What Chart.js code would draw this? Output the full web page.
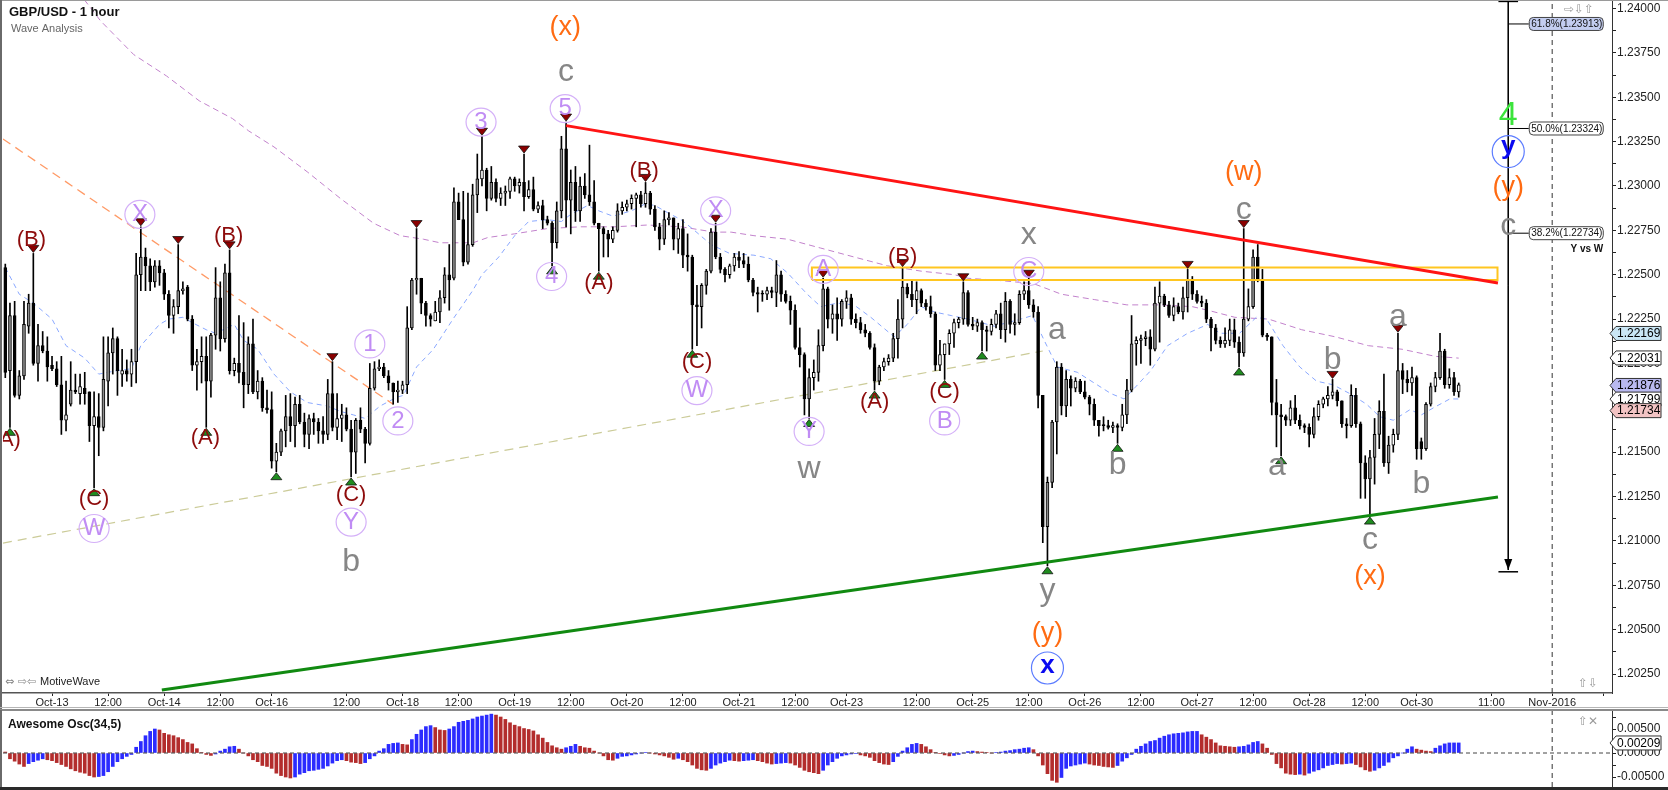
<!DOCTYPE html>
<html><head><meta charset="utf-8">
<script src="https://cdn.jsdelivr.net/npm/chart.js@4.4.1/dist/chart.umd.min.js"></script>
<style>
html,body{margin:0;padding:0;background:#fff;width:1668px;height:790px;overflow:hidden;}
#wrap{position:relative;width:1668px;height:790px;}
#c1{position:absolute;left:0;top:0;}
#c2{position:absolute;left:0;top:710px;}
</style></head><body><div id="wrap">
<canvas id="c1" width="1668" height="710"></canvas>
<canvas id="c2" width="1668" height="80"></canvas>
</div>
<script>
// ---------- DATA (prices in pips above 1.20000) ----------
const BASE = 1.2, PIP = 0.0001;
const opens = [254,196,227,182,193,221,234,200,210,207,199,197,188,168,177,185,183,186,184,165,170,164,190,206,214,194,196,194,201,250,260,255,246,255,251,239,227,232,241,243,225,199,201,204,190,216,237,214,251,196,200,195,188,211,184,190,175,174,145,150,162,170,165,177,167,160,169,167,162,160,183,164,169,171,163,150,168,163,155,186,197,198,193,189,184,185,188,220,247,248,234,227,224,229,237,250,248,291,281,257,267,295,304,309,293,302,293,296,297,304,300,302,294,298,287,289,281,279,268,286,321,292,302,286,300,295,291,279,276,273,270,275,286,288,290,293,295,290,296,287,277,270,281,282,270,276,261,260,233,232,244,252,274,260,253,250,255,260,258,256,247,240,239,239,241,240,250,239,235,230,209,205,180,192,195,210,242,225,228,225,235,237,225,223,219,217,209,190,198,201,203,214,225,243,239,236,241,234,232,228,199,205,211,217,223,225,240,222,221,223,219,218,222,228,219,235,222,223,239,241,233,229,182,108,133,167,198,176,191,186,190,184,181,177,168,165,165,164,165,164,171,185,211,213,214,215,208,234,238,233,227,232,229,237,247,239,235,234,225,220,213,211,213,219,212,206,225,232,260,247,216,215,178,171,170,168,175,168,165,164,160,170,177,180,182,184,179,166,165,182,166,144,135,147,160,173,144,154,160,196,191,189,192,156,152,177,187,192,207,188,192,184];
const highs = [256,234,235,196,235,239,262,222,218,215,204,201,204,190,201,194,194,195,184,184,183,215,215,220,215,208,202,208,262,277,265,259,258,258,253,241,236,267,246,244,227,208,215,215,217,254,246,256,264,203,227,223,215,225,196,192,185,184,155,163,182,183,181,182,172,171,172,169,170,191,201,183,177,175,168,169,175,164,200,201,202,200,196,189,190,190,232,248,276,248,235,228,235,241,254,267,299,296,297,296,301,318,328,310,311,304,299,300,305,305,304,318,303,305,291,292,283,280,291,328,336,309,311,305,307,323,303,279,277,275,277,290,291,292,295,296,297,302,297,289,279,286,285,282,279,281,273,261,244,245,253,276,279,262,254,256,262,263,262,260,248,243,241,243,243,258,252,241,238,233,220,206,197,202,219,248,243,233,237,236,241,239,228,226,222,218,211,199,203,205,217,236,254,245,247,246,242,236,238,229,213,211,219,225,226,246,241,226,225,224,221,225,230,234,240,236,228,241,246,248,236,232,182,136,168,201,200,196,193,192,191,190,182,180,168,170,168,167,166,177,191,227,215,216,218,219,243,246,239,235,237,234,243,253,249,241,238,236,226,222,215,220,225,225,215,276,242,264,267,253,217,215,191,177,171,179,182,171,166,166,175,179,181,187,191,185,179,169,188,186,167,148,151,169,179,194,159,163,217,200,196,198,193,158,178,189,195,217,208,197,195,189];
const lows = [192,164,181,180,191,217,199,190,206,190,196,187,160,162,176,183,177,177,156,130,148,162,176,194,182,187,190,187,189,241,241,241,243,244,236,220,217,228,239,224,196,185,189,164,181,208,207,212,194,193,189,175,183,183,180,173,172,141,139,148,153,156,153,166,153,152,160,155,155,157,162,157,156,162,136,138,161,144,154,185,196,192,185,177,178,183,183,219,239,228,221,221,224,223,234,230,247,281,255,256,266,285,300,286,292,291,289,289,293,297,296,286,293,286,285,276,278,255,265,282,277,273,280,280,293,289,278,252,260,260,268,274,284,286,287,277,288,288,284,275,264,267,278,264,262,254,252,208,210,220,239,251,259,251,246,248,252,254,254,246,238,229,235,236,237,232,235,234,222,208,198,171,169,185,190,207,220,217,213,221,231,222,220,217,215,208,185,188,196,199,201,203,220,237,232,228,232,230,226,196,196,191,205,209,220,222,221,219,218,207,207,216,220,214,212,217,216,222,236,231,226,175,99,86,130,149,171,170,176,184,183,180,171,165,159,162,163,161,155,162,166,184,199,200,210,199,207,212,232,226,224,228,225,229,236,234,232,223,207,211,209,209,210,209,198,204,224,231,246,215,213,171,153,148,165,165,166,163,161,153,158,168,175,176,180,176,164,158,164,164,124,124,114,132,152,142,138,150,157,183,184,182,146,146,151,176,184,191,186,186,182,181];
const closes = [195,227,182,193,222,234,200,210,207,198,197,188,168,171,185,184,187,183,165,170,164,191,206,214,196,196,194,201,250,260,255,246,255,251,239,227,232,241,242,225,199,201,204,190,216,237,214,251,196,200,195,188,211,184,190,175,174,145,150,162,170,165,177,167,160,169,167,162,160,183,164,169,171,163,150,168,163,155,186,197,198,193,189,184,185,188,220,247,248,234,227,225,229,237,250,247,291,281,257,267,295,304,309,293,302,293,296,297,304,300,302,294,298,287,289,281,279,268,286,321,292,302,286,300,295,291,279,276,273,270,275,286,288,290,293,295,290,296,287,277,270,281,282,270,276,261,260,233,232,244,252,274,260,253,250,255,260,258,256,247,240,239,239,241,240,250,239,235,230,209,205,180,192,195,210,242,225,228,225,235,237,225,223,219,217,209,190,198,201,203,214,225,243,239,236,241,234,232,228,199,205,211,217,223,225,240,222,221,223,219,218,222,228,219,235,222,223,239,241,233,229,182,108,133,167,198,176,191,186,190,184,181,177,168,165,165,164,165,164,171,185,211,213,214,215,208,234,238,233,227,232,229,237,247,239,235,234,225,220,213,211,213,219,212,206,225,232,260,247,216,215,178,171,170,168,175,168,165,164,160,170,177,180,182,184,179,166,165,182,166,144,135,147,160,173,144,154,160,196,191,189,192,152,152,177,187,192,207,188,192,184,188];
// Awesome Oscillator, units of 0.0001
const aoValues = [2,-12,-17,-23,-28,-22,-18,-15,-12,-14,-16,-20,-24,-28,-33,-37,-40,-42,-47,-50,-49,-47,-39,-28,-18,-12,-7,-3,12,24,36,45,50,48,41,38,36,32,28,22,19,9,1,-3,-5,-2,4,8,13,14,8,0,-6,-14,-18,-26,-28,-32,-42,-47,-50,-52,-50,-44,-41,-37,-36,-34,-32,-27,-21,-16,-14,-16,-19,-20,-22,-20,-12,-6,4,9,18,20,21,18,17,28,39,48,55,57,53,48,47,50,55,64,66,68,71,75,77,79,81,79,75,70,63,58,55,51,49,46,38,31,22,15,11,8,11,14,18,14,11,10,4,0,-6,-14,-15,-11,-7,-6,-4,-2,0,1,0,-2,-4,-6,-9,-13,-11,-14,-18,-25,-32,-35,-36,-32,-25,-21,-18,-15,-16,-17,-16,-15,-14,-16,-18,-21,-23,-22,-21,-20,-21,-25,-30,-36,-39,-41,-43,-36,-25,-18,-11,-6,-4,-2,-1,-4,-6,-9,-16,-20,-23,-24,-18,-7,4,11,18,20,18,13,7,1,-1,-4,-6,-5,-3,0,3,4,3,2,1,0,1,2,4,5,7,8,10,11,7,-6,-25,-43,-57,-61,-51,-32,-27,-25,-23,-21,-23,-25,-26,-28,-29,-30,-26,-17,-10,-3,8,14,19,24,26,31,35,38,40,41,42,44,45,45,38,33,28,21,15,14,13,12,13,14,17,22,24,19,10,-3,-22,-31,-42,-44,-45,-44,-46,-42,-38,-35,-31,-26,-24,-22,-23,-22,-21,-24,-29,-35,-38,-36,-31,-26,-19,-10,-6,0,8,13,8,6,4,3,10,15,19,21,21,21];
// moving averages: [bar index, pips]
const blueMA = [[0,254],[3,239],[6,234],[10,225],[13,210],[17,203],[20,194],[24,196],[27,197],[29,210],[33,222],[35,225],[38,226],[40,223],[43,219],[45,217],[49,222],[51,213],[54,208],[57.5,194],[61,184],[64.6,178],[68.9,176],[71.7,173],[74.5,171],[77,169],[80.2,176],[83.8,181],[85.2,182],[88,198],[91.6,208],[95.8,225],[100,241],[102,250],[105.6,260],[109,272],[112,280],[116,281],[119,280],[121,284],[124.6,289],[127,286],[130,283],[134,286],[137,290],[139,289],[141.7,285],[144.6,281],[147,276],[151,267],[155,262],[160.2,261],[163.8,259],[167.4,251],[171.6,239],[174.5,232],[178,234],[181.6,233],[185.2,226],[190.2,215],[193,222],[196,232],[198.8,229],[202.4,227],[206,225],[211.6,221],[217.3,225],[219.8,227],[222.3,213],[225.1,198],[229.4,195],[233,189],[236.6,183],[239.4,180],[242.3,188],[245.1,196],[248.7,210],[253,217],[257.3,222],[259.9,217],[264.1,217],[267.7,226],[269.9,225],[273.4,210],[277,198],[280.6,190],[284.1,188],[287.7,183],[291.3,177],[294.1,170],[297,168],[300.6,174],[303,171],[305.6,175],[309.1,180],[311,180]];
const purpleMA = [[16.9,405],[20.4,393],[27.5,374],[34.5,362],[41.5,348],[48.6,338],[52.1,331],[57.5,322],[64.6,308],[71.7,293],[78.8,279],[84.5,272],[89.5,270],[93,268],[100.1,268],[103.3,271],[108.9,273],[116,276],[123.1,277],[130.3,277],[137.4,278],[144.6,277],[151.7,274],[155.3,274],[160.2,272],[167.4,270],[174.5,265],[181.6,260],[188.8,255],[196,252],[203.1,250],[206,248],[211.6,247],[220,245],[226,239],[233,236],[240,233],[247,233],[254,232],[257.3,230],[263.1,226],[270.3,225],[277.4,219],[284.6,215],[291.7,210],[298.9,208],[306,204],[311,203]];
// drawn studies: [bar index, pips]
const orangeLine = [[-0.5,326.5],[83,177]];
const khakiLine = [[-0.5,98.8],[222,207]];
const redLine = [[120,334],[319.4,245.3]];
const greenLine = [[33.5,16],[319.4,124.7]];
const zoneBox = [[172.6,247],[319.3,247],[319.3,254],[172.6,254],[172.6,247]];
const fibIndex = 321.6, fibTop = 404, fibBottom = 83.6;
const fibLevels = [391.3, 332.4, 273.4];
const fibTexts = ['61.8%(1.23913)','50.0%(1.23324)','38.2%(1.22734)'];
// swing markers (bar indices)
const lowMarks = [1,19,43,58,74,117,127,147,172,186,201,209,223,238,264,273,292];
const highMarks = [6,29,37,48,70,88,102,111,120,137,152,175,192,205,219,253,265,284,298];
// wave labels: [bar index, pips, text, style]
const waveLabels = [
 [0.2,156,'(A)','dr'],[5.6,268.5,'(B)','dr'],[19,122.5,'(C)','dr'],[19,107,'W','lav'],[28.8,284,'X','lav'],
 [42.8,157,'(A)','dr'],[47.8,270.7,'(B)','dr'],[74,125,'(C)','dr'],[74,110.6,'Y','lav'],[74,88,'b','gray'],
 [78,211,'1','lav'],[84,167.6,'2','lav'],[101.8,336,'3','lav'],[119.8,388,'(x)','or'],[120,362.5,'c','gray'],
 [119.8,343.6,'5','lav'],[116.9,249,'4','lav'],[127,244,'(A)','dr'],[136.7,307.6,'(B)','dr'],[148,199.7,'(C)','dr'],
 [148,184.7,'W','lav'],[152,286,'X','lav'],[172,161.7,'Y','lav'],[172,139,'w','gray'],[175,253,'A','lav'],
 [186,177,'(A)','dr'],[192,259,'(B)','dr'],[201,183,'(C)','dr'],[201,167.6,'B','lav'],[219,270.8,'x','gray'],
 [219,251.8,'C','lav'],[225,217.4,'a','gray'],[223,68,'y','gray'],[223,46.7,'(y)','or'],[223,28.4,'x','blue'],
 [238,142.8,'b','gray'],[265,306.4,'(w)','or'],[265,285,'c','gray'],[272.1,140.5,'a','gray'],[284,202,'b','gray'],
 [298,224.5,'a','gray'],[303,132,'b','gray'],[292,98.8,'c','gray'],[292,78.7,'(x)','or'],
 [321.6,339.6,'4','grn'],[321.6,319.4,'y','blue'],[321.6,298,'(y)','or'],[321.6,275.5,'c','gray']
];
// axis labels
const xTickIdx = [10,22,34,46,57,73,85,97,109,121,133,145,157,169,180,195,207,219,231,243,255,267,279,291,302,318,331,342];
const xTickText = ['Oct-13','12:00','Oct-14','12:00','Oct-16','12:00','Oct-18','12:00','Oct-19','12:00','Oct-20','12:00','Oct-21','12:00','Oct-23','12:00','Oct-25','12:00','Oct-26','12:00','Oct-27','12:00','Oct-28','12:00','Oct-30','11:00','Nov-2016',''];
const priceMajor = ['1.24000','1.23750','1.23500','1.23250','1.23000','1.22750','1.22500','1.22250','1.22000','1.21750','1.21500','1.21250','1.21000','1.20750','1.20500','1.20250'];
const priceTags = [['1.22169','#c9e6f5'],['1.22031','#ffffff'],['1.21876','#b9b9f0'],['1.21799','#ffffff'],['1.21734','#f3c4c4']];
const aoMajor = ['0.00500','0.00000','-0.00500'];
const aoTag = '0.00209';
const novIndex = 331;

// ---------- RENDER ----------
const FONT = '"Liberation Sans", Arial, sans-serif';
Chart.defaults.font.family = FONT;
const XMIN = -0.49, XMAX = 343.8, YMIN = 1.20143, YMAX = 1.24048;
const px = p => BASE + p * PIP;
function seg(points, color, width, dash, order) {
  return {type:'line', data: points.map(([i,p]) => ({x:i, y:px(p)})), borderColor:color, borderWidth:width,
    borderDash:dash || [], pointRadius:0, fill:false, tension:0, order:order};
}
const bodyData = opens.map((o,i) => ({x:i, y:[px(Math.min(o,closes[i])), px(Math.max(o,closes[i]))]}));
const bodyColors = opens.map((o,i) => closes[i] <= o ? '#000000' : (closes[i]-o >= 8 ? '#8c8c8c' : '#ffffff'));
const wickData = highs.map((h,i) => ({x:i, y:[px(lows[i]), px(h)]}));

const majorVals = priceMajor.map(Number);
const priceTickVals = [];
majorVals.forEach((v,k) => { priceTickVals.push(v); if (k < majorVals.length-1) priceTickVals.push((v + majorVals[k+1]) / 2); });

const STY = {
  dr:  {size:22, color:'#8e0c0c', dy:-0.09},
  lav: {size:24, color:'#c08cf4', ring:'#d4b0f8', rx:15, ry:14, dy:0},
  gray:{size:32, color:'#868686', dy:0},
  or:  {size:27, color:'#ff6b12', dy:-0.09},
  blue:{size:26, color:'#0a0af0', ring:'#5c7cff', rx:16, ry:16, dy:0, weight:'600 '},
  grn: {size:34, color:'#3be43b', dy:0}
};
function glyphShift(t) {
  if (/^[acwxvz]$/.test(t)) return -0.09;
  if (/^[ypq]$/.test(t)) return -0.19;
  return 0;
}
function drawLabel(ctx, x, y, t, s) {
  const st = STY[s];
  if (st.ring) {
    ctx.beginPath(); ctx.ellipse(x, y, st.rx, st.ry, 0, 0, Math.PI*2);
    ctx.strokeStyle = st.ring; ctx.lineWidth = 1.2; ctx.stroke();
  }
  ctx.font = (st.weight || '') + st.size + 'px ' + FONT;
  ctx.fillStyle = st.color; ctx.textAlign = 'center'; ctx.textBaseline = 'middle';
  const dy = (st.dy + glyphShift(t)) * st.size;
  ctx.fillText(t, x, y + dy);
}
function tri(ctx, x, y, up, fill) {
  ctx.beginPath();
  if (up) { ctx.moveTo(x, y); ctx.lineTo(x+5.5, y+7); ctx.lineTo(x-5.5, y+7); }
  else { ctx.moveTo(x, y); ctx.lineTo(x+5.5, y-7); ctx.lineTo(x-5.5, y-7); }
  ctx.closePath(); ctx.fillStyle = fill; ctx.fill();
  ctx.strokeStyle = '#111'; ctx.lineWidth = 0.8; ctx.stroke();
}
function roundRect(ctx, x, y, w, h, r) {
  ctx.beginPath(); ctx.moveTo(x+r, y); ctx.lineTo(x+w-r, y); ctx.arcTo(x+w, y, x+w, y+r, r);
  ctx.lineTo(x+w, y+h-r); ctx.arcTo(x+w, y+h, x+w-r, y+h, r); ctx.lineTo(x+r, y+h);
  ctx.arcTo(x, y+h, x, y+h-r, r); ctx.lineTo(x, y+r); ctx.arcTo(x, y, x+r, y, r); ctx.closePath();
}
function axisTag(ctx, left, y, text, fill) {
  ctx.beginPath();
  ctx.moveTo(left, y); ctx.lineTo(left+6, y-7); ctx.lineTo(left+51, y-7); ctx.lineTo(left+51, y+7);
  ctx.lineTo(left+6, y+7); ctx.closePath();
  ctx.fillStyle = fill; ctx.fill(); ctx.strokeStyle = '#333'; ctx.lineWidth = 1; ctx.stroke();
  ctx.fillStyle = '#000'; ctx.font = '12px ' + FONT; ctx.textAlign = 'left'; ctx.textBaseline = 'middle';
  ctx.fillText(text, left+7, y+0.5);
}

const overlay = {
  id:'overlay',
  afterDatasetsDraw(chart) {
    const {ctx, chartArea:a, scales:{x, y}} = chart;
    const X = i => x.getPixelForValue(i), Y = p => y.getPixelForValue(px(p));
    ctx.save();
    ctx.beginPath(); ctx.rect(a.left, a.top, a.right-a.left, a.bottom-a.top); ctx.clip();
    const fx = X(fibIndex), fb = Y(fibBottom);
    ctx.beginPath(); ctx.moveTo(fx, fb); ctx.lineTo(fx-4, fb-11); ctx.lineTo(fx+4, fb-11); ctx.closePath();
    ctx.fillStyle = '#000'; ctx.fill();
    lowMarks.forEach(i => tri(ctx, X(i), Y(lows[i])+1, true, '#1f8c1f'));
    highMarks.forEach(i => tri(ctx, X(i), Y(highs[i])-1, false, '#8b0000'));
    waveLabels.forEach(([i,p,t,s]) => drawLabel(ctx, X(i), Y(p), t, s));
    fibLevels.forEach((lv,k) => {
      const yy = Y(lv), bx = fx + 21;
      roundRect(ctx, bx, yy-6.5, 74, 13, 4);
      ctx.fillStyle = k === 0 ? '#c3cdf0' : '#ffffff'; ctx.fill();
      ctx.strokeStyle = '#444'; ctx.lineWidth = 1; ctx.stroke();
      ctx.fillStyle = '#111'; ctx.font = '10px ' + FONT; ctx.textAlign = 'left'; ctx.textBaseline = 'middle';
      ctx.fillText(fibTexts[k], bx+2, yy+0.5);
    });
    ctx.font = 'bold 10px ' + FONT; ctx.textAlign = 'right'; ctx.fillStyle = '#111';
    ctx.fillText('Y vs W', fx + 95, Y(fibLevels[2]) + 16);
    ctx.restore();
  },
  afterDraw(chart) {
    const {ctx, chartArea:a, scales:{y}} = chart;
    ctx.save();
    priceTags.forEach(([t,f]) => axisTag(ctx, a.right-2, y.getPixelForValue(Number(t)), t, f));
    ctx.fillStyle = '#9a9a9a'; ctx.fillRect(0, 0, 1668, 1);
    ctx.fillStyle = '#6a6a6a'; ctx.fillRect(0, 0, 2, 710);
    ctx.fillStyle = '#b5b5b5'; ctx.fillRect(0, 707, 1668, 1); ctx.fillStyle = '#8a8a8a'; ctx.fillRect(0, 709, 1668, 1);
    ctx.fillStyle = '#111'; ctx.font = 'bold 13px ' + FONT; ctx.textAlign = 'left'; ctx.textBaseline = 'alphabetic';
    ctx.fillText('GBP/USD - 1 hour', 9, 16);
    ctx.fillStyle = '#666'; ctx.font = '11px ' + FONT;
    ctx.fillText('Wave Analysis', 11, 32);
    ctx.fillStyle = '#222'; ctx.font = '11px ' + FONT;
    ctx.fillText('MotiveWave', 40, 685);
    ctx.fillStyle = '#888'; ctx.font = '11px "DejaVu Sans", sans-serif';
    ctx.fillText('\u21D4 \u21E8\u21E6', 5, 685);
    ctx.font = '12px "DejaVu Sans", sans-serif'; ctx.fillStyle = '#9a9a9a';
    ctx.fillText('\u21E8\u21E9\u21E7', 1564, 13);
    ctx.fillText('\u21E7\u21E9', 1578, 687);
    ctx.restore();
  }
};

new Chart(document.getElementById('c1'), {
  type:'bar',
  data:{datasets:[
    {type:'bar', data:bodyData, backgroundColor:bodyColors, borderColor:'#000', borderWidth:1, borderSkipped:false,
     barThickness:3, grouped:false, minBarLength:1, order:2},
    {type:'bar', data:wickData, backgroundColor:'#000', borderWidth:0, barThickness:1, grouped:false, order:3},
    seg(blueMA, '#8aa8ff', 1, [5,4], 5),
    seg(purpleMA, '#c282cc', 1, [6,4], 5),
    seg(orangeLine, '#ff9a66', 1.3, [9,6], 4),
    seg(khakiLine, '#cbcb98', 1.2, [9,6], 4),
    seg(zoneBox, '#ffc620', 2, [], 1),
    seg(redLine, '#ff1414', 3, [], 0),
    seg(greenLine, '#118a11', 3, [], 0),
    seg([[fibIndex,fibTop],[fibIndex,fibBottom]], '#000', 1, [], 0),
    seg([[fibIndex-2.1,fibTop],[fibIndex+2.1,fibTop]], '#000', 1.5, [], 0),
    seg([[fibIndex-2.1,fibBottom-1],[fibIndex+2.1,fibBottom-1]], '#000', 1.5, [], 0),
    ...fibLevels.map(lv => seg([[fibIndex,lv],[fibIndex+4.4,lv]], '#000', 1, [], 0)),
    {type:'line', data:[{x:novIndex,y:YMIN},{x:novIndex,y:YMAX}], borderColor:'#333', borderWidth:1, borderDash:[5,4], pointRadius:0, order:6}
  ]},
  options:{
    responsive:false, animation:false, devicePixelRatio:1, events:[],
    layout:{padding:{left:3, top:0, right:0, bottom:0}},
    plugins:{legend:{display:false}, tooltip:{enabled:false}},
    scales:{
      x:{type:'linear', min:XMIN, max:XMAX, offset:false, position:'bottom',
        grid:{display:true, drawOnChartArea:false, drawTicks:true, tickLength:3, color:'#222', offset:false},
        border:{display:true, color:'#555', width:1.5},
        ticks:{autoSkip:false, maxRotation:0, minRotation:0, padding:0, color:'#222', font:{size:11},
          callback:(v) => { const k = xTickIdx.indexOf(v); return k >= 0 ? xTickText[k] : ''; }},
        afterBuildTicks:(s) => { s.ticks = xTickIdx.map(v => ({value:v})); },
        afterFit:(s) => { s.height = 17; s.paddingLeft = 0; s.paddingRight = 0; }
      },
      y:{type:'linear', position:'right', min:YMIN, max:YMAX,
        grid:{display:true, drawOnChartArea:false, tickLength:4, color:'#222'},
        border:{display:true, color:'#333', width:1},
        ticks:{autoSkip:false, padding:1, color:'#222', font:{size:12},
          callback:(v) => { const s = Number(v).toFixed(5); return priceMajor.includes(s) ? s : ''; }},
        afterBuildTicks:(s) => { s.ticks = priceTickVals.filter(v => v >= YMIN && v <= YMAX).map(v => ({value:v})); },
        afterFit:(s) => { s.width = 56; s.paddingTop = 0; s.paddingBottom = 0; }
      }
    }
  },
  plugins:[overlay]
});

// ---------- OSCILLATOR ----------
const aoData = aoValues.map((v,i) => ({x:i, y:v * 0.0001}));
const aoColors = aoValues.map((v,i) => (i > 0 && v >= aoValues[i-1]) ? '#2b2bff' : '#b32d2d');
const aoTickVals = [0.0075, 0.005, 0.0025, 0, -0.0025, -0.005];
const AOMIN = -0.00708, AOMAX = 0.00896;
const oscOverlay = {
  id:'oscOverlay',
  afterDraw(chart) {
    const {ctx, chartArea:a, scales:{y}} = chart;
    ctx.save();
    axisTag(ctx, a.right-2, y.getPixelForValue(Number(aoTag)), aoTag, '#ffffff');
    ctx.fillStyle = '#8a8a8a'; ctx.fillRect(0, 0, 1668, 1);
    ctx.fillStyle = '#6a6a6a'; ctx.fillRect(0, 0, 2, 80);
    ctx.fillStyle = '#2a2a2a'; ctx.fillRect(0, 77, 1668, 3);
    ctx.fillStyle = '#111'; ctx.font = 'bold 12px ' + FONT; ctx.textAlign = 'left'; ctx.textBaseline = 'alphabetic';
    ctx.fillText('Awesome Osc(34,5)', 8, 18);
    ctx.font = '12px "DejaVu Sans", sans-serif'; ctx.fillStyle = '#9a9a9a';
    ctx.fillText('\u21E7\u2715', 1578, 15);
    ctx.restore();
  }
};
new Chart(document.getElementById('c2'), {
  type:'bar',
  data:{datasets:[
    {type:'bar', data:aoData, backgroundColor:aoColors, borderWidth:0, barThickness:3, grouped:false, order:2},
    {type:'line', data:[{x:XMIN,y:0},{x:XMAX,y:0}], borderColor:'#444', borderWidth:1, borderDash:[4,3], pointRadius:0, order:1},
    {type:'line', data:[{x:novIndex,y:AOMIN},{x:novIndex,y:AOMAX}], borderColor:'#333', borderWidth:1, borderDash:[5,4], pointRadius:0, order:1}
  ]},
  options:{
    responsive:false, animation:false, devicePixelRatio:1, events:[],
    layout:{padding:{left:3, top:0, right:0, bottom:3}},
    plugins:{legend:{display:false}, tooltip:{enabled:false}},
    scales:{
      x:{type:'linear', min:XMIN, max:XMAX, offset:false, display:false},
      y:{type:'linear', position:'right', min:AOMIN, max:AOMAX,
        grid:{display:true, drawOnChartArea:false, tickLength:4, color:'#222'},
        border:{display:true, color:'#333', width:1},
        ticks:{autoSkip:false, padding:1, color:'#222', font:{size:12},
          callback:(v) => { const s = Number(v).toFixed(5); return aoMajor.includes(s) ? s : ''; }},
        afterBuildTicks:(s) => { s.ticks = aoTickVals.map(v => ({value:v})); },
        afterFit:(s) => { s.width = 56; s.paddingTop = 0; s.paddingBottom = 0; }
      }
    }
  },
  plugins:[oscOverlay]
});
</script></body></html>
